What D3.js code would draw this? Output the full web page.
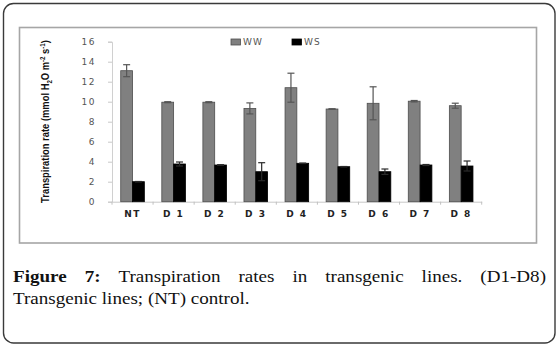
<!DOCTYPE html>
<html>
<head>
<meta charset="utf-8">
<script src="https://cdn.jsdelivr.net/npm/d3@7"></script>
<style>
  body { margin: 0; background: #fff; }
  svg { display: block; }
</style>
</head>
<body>
<div id="container"></div>
<script>
var WIDTH = 559,
	HEIGHT = 347,
	PLOT_LEFT = 112,
	PLOT_RIGHT = 481.7,
	PLOT_TOP = 41.7,
	PLOT_BOTTOM = 201.7;

// values
var categories = ["NT", "D 1", "D 2", "D 3", "D 4", "D 5", "D 6", "D 7", "D 8"];
var seriesNames = ["WW", "WS"];
var wwValues = [13.1, 9.95, 9.95, 9.33, 11.4, 9.27, 9.84, 10.05, 9.6];
var wwErrors = [0.6, 0.05, 0.05, 0.55, 1.45, 0.02, 1.65, 0.07, 0.25];
var wsValues = [2.0, 3.77, 3.67, 3.0, 3.84, 3.5, 3.0, 3.67, 3.57];
var wsErrors = [0.02, 0.2, 0.03, 0.9, 0.02, 0.02, 0.27, 0.05, 0.5];
var yTicks = [0, 2, 4, 6, 8, 10, 12, 14, 16];

var captionLine1 = ["Transpiration", "rates", "in", "transgenic", "lines.", "(D1-D8)"];
var captionLine2 = "Transgenic lines; (NT) control.";

var colors = { WW: "#808080", WS: "#000000" };
var strokes = { WW: "#4d4d4d", WS: "#000000" };
var errColors = { WW: "#555555", WS: "#2a2a2a" };

var xScale = d3.scaleBand().domain(categories).range([PLOT_LEFT, PLOT_RIGHT]).padding(0);
var subScale = d3.scaleBand().domain(seriesNames).range([0, xScale.bandwidth()]).paddingInner(0).paddingOuter(0.74);
var yScale = d3.scaleLinear().domain([0, 16]).range([PLOT_BOTTOM, PLOT_TOP]);

var translate = function (x, y) {
	return "translate(" + x + "," + y + ")";
};

var rows = categories.map(function (c, i) {
	return [
		{ cat: c, key: "WW", v: wwValues[i], e: wwErrors[i] },
		{ cat: c, key: "WS", v: wsValues[i], e: wsErrors[i] }
	];
});

var svg = d3.select("#container").append("svg")
	.attr("width", WIDTH)
	.attr("height", HEIGHT);

// outer frame + chart box
svg.append("rect")
	.attr("x", 3.5).attr("y", 3.5)
	.attr("width", 551.5).attr("height", 339.5)
	.attr("rx", 10).attr("ry", 10)
	.attr("fill", "#fff").attr("stroke", "#3a3a3a").attr("stroke-width", 1.4);

svg.append("rect")
	.attr("x", 19.5).attr("y", 27.5)
	.attr("width", 517).attr("height", 215.5)
	.attr("fill", "#fff").attr("stroke", "#a6a6a6").attr("stroke-width", 1.6);

function drawAxis() {
	var yAxis = d3.axisLeft(yScale).tickValues(yTicks).tickSize(4).tickPadding(12);
	var gy = svg.append("g").attr("transform", translate(PLOT_LEFT, 0)).call(yAxis);
	gy.select(".domain").attr("stroke", "#d0d0d0");
	gy.selectAll(".tick line").attr("stroke", "#c8c8c8");
	gy.selectAll("text")
		.attr("fill", "#555")
		.style("font-family", "DejaVu Sans")
		.style("font-size", "9px")
		.style("letter-spacing", "1.5px");

	var xAxis = d3.axisBottom(xScale).tickSize(0).tickPadding(9);
	var gx = svg.append("g").attr("transform", translate(0, PLOT_BOTTOM)).call(xAxis);
	gx.select(".domain").attr("stroke", "#c8c8c8");
	gx.selectAll("text")
		.attr("fill", "#222")
		.style("font-family", "DejaVu Sans")
		.style("font-weight", "bold")
		.style("font-size", "9px")
		.style("letter-spacing", "1.5px");

	// excel style marks between categories
	var edges = categories.map(function (c) { return xScale(c); }).concat([PLOT_RIGHT]);
	svg.append("g").selectAll("line").data(edges).enter()
		.append("line")
		.attr("x1", function (d) { return d; })
		.attr("x2", function (d) { return d; })
		.attr("y1", PLOT_BOTTOM)
		.attr("y2", PLOT_BOTTOM + 3)
		.attr("stroke", "#c0c0c0");
}

function drawBars() {
	var groups = svg.append("g").selectAll("g").data(rows).enter()
		.append("g")
		.attr("transform", function (d) { return translate(xScale(d[0].cat), 0); });

	groups.selectAll("rect").data(function (d) { return d; }).enter()
		.append("rect")
		.attr("x", function (d) { return subScale(d.key); })
		.attr("y", function (d) { return yScale(d.v); })
		.attr("width", subScale.bandwidth())
		.attr("height", function (d) { return PLOT_BOTTOM - yScale(d.v); })
		.attr("fill", function (d) { return colors[d.key]; })
		.attr("stroke", function (d) { return strokes[d.key]; })
		.attr("stroke-width", 0.8);

	var err = groups.selectAll("g.err").data(function (d) { return d; }).enter()
		.append("g").attr("class", "err")
		.attr("stroke", function (d) { return errColors[d.key]; })
		.attr("stroke-width", 1.2);

	var cx = function (d) { return subScale(d.key) + subScale.bandwidth() / 2; };
	err.append("line")
		.attr("x1", cx).attr("x2", cx)
		.attr("y1", function (d) { return yScale(d.v - d.e); })
		.attr("y2", function (d) { return yScale(d.v + d.e); });
	err.append("line")
		.attr("x1", function (d) { return cx(d) - 3.5; })
		.attr("x2", function (d) { return cx(d) + 3.5; })
		.attr("y1", function (d) { return yScale(d.v + d.e); })
		.attr("y2", function (d) { return yScale(d.v + d.e); });
	err.append("line")
		.attr("x1", function (d) { return cx(d) - 3.5; })
		.attr("x2", function (d) { return cx(d) + 3.5; })
		.attr("y1", function (d) { return yScale(d.v - d.e); })
		.attr("y2", function (d) { return yScale(d.v - d.e); });
}

function drawLegend() {
	var pos = { WW: 231, WS: 292 };
	var lg = svg.append("g").selectAll("g").data(seriesNames).enter()
		.append("g")
		.attr("transform", function (d) { return translate(pos[d], 42); });
	lg.append("rect")
		.attr("x", 0).attr("y", -3)
		.attr("width", 9.5).attr("height", 6)
		.attr("fill", function (d) { return colors[d]; })
		.attr("stroke", function (d) { return strokes[d]; })
		.attr("stroke-width", 0.8);
	lg.append("text")
		.attr("x", 12).attr("y", 3.3)
		.attr("fill", "#555")
		.style("font-family", "DejaVu Sans")
		.style("font-size", "9px")
		.style("letter-spacing", "1.2px")
		.text(function (d) { return d; });
}

function drawYTitle() {
	var t = svg.append("text")
		.attr("transform", translate(49, 121.5) + " rotate(-90)")
		.attr("text-anchor", "middle")
		.attr("fill", "#111")
		.style("font-family", "'Liberation Sans Narrow', 'Liberation Sans', sans-serif")
		.style("font-weight", "bold")
		.style("font-size", "11.5px");
	t.append("tspan").text("Transpiration rate (mmol H");
	t.append("tspan").attr("dy", 2.5).style("font-size", "7.5px").text("2");
	t.append("tspan").attr("dy", -2.5).text("O m");
	t.append("tspan").attr("dy", -4).style("font-size", "7.5px").text("-2");
	t.append("tspan").attr("dy", 4).text(" s");
	t.append("tspan").attr("dy", -4).style("font-size", "7.5px").text("-1");
	t.append("tspan").attr("dy", 4).text(")");
	var w = t.node().getComputedTextLength();
	t.attr("transform", translate(49, 121.5) + " rotate(-90) scale(" + (163 / w) + ",1)");
}

function drawCaption() {
	var SX = 1.09, LEFT = 13, RIGHT = 546;
	var g = svg.append("g")
		.attr("transform", translate(LEFT, 0) + " scale(" + SX + ",1)")
		.style("font-family", "'Liberation Serif', serif")
		.style("font-size", "17.5px")
		.attr("fill", "#111");

	var words = [{ t: "Figure", b: true }, { t: "7:", b: true }].concat(
		captionLine1.map(function (w) { return { t: w, b: false }; }));
	var nodes = words.map(function (w) {
		return g.append("text").attr("y", 282)
			.style("font-weight", w.b ? "bold" : "normal")
			.text(w.t);
	});
	var widths = nodes.map(function (n) { return n.node().getComputedTextLength(); });
	var avail = (RIGHT - LEFT) / SX;
	var gap = (avail - d3.sum(widths)) / (nodes.length - 1);
	var x = 0;
	nodes.forEach(function (n, i) {
		n.attr("x", x);
		x += widths[i] + gap;
	});

	g.append("text").attr("x", 0).attr("y", 304).text(captionLine2);
}

drawAxis();
drawBars();
drawLegend();
drawYTitle();
drawCaption();
</script>
</body>
</html>
